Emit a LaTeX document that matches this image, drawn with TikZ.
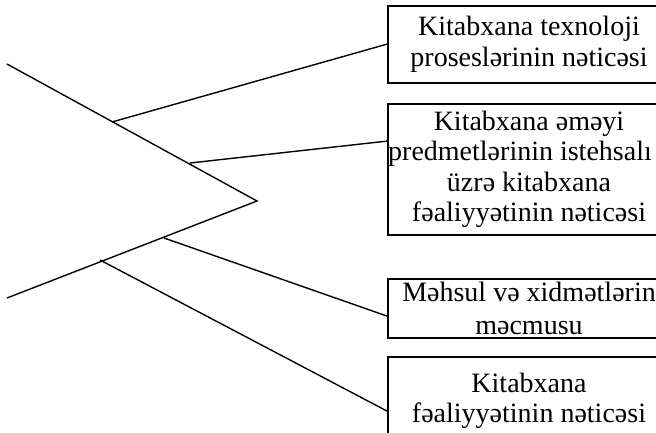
\documentclass[tikz,border=0pt]{standalone}
\usepackage{fontspec}
\setmainfont{Liberation Serif}
\usetikzlibrary{calc}
\begin{document}
\begin{tikzpicture}[x=1pt,y=-1pt,
  line/.style={line width=1.4pt,line join=miter},
  resultbox/.style={draw,line width=1.8pt,rectangle,inner sep=0pt,
    minimum width=282pt,align=center,
    font=\fontsize{28}{30.5}\selectfont}]
  \useasboundingbox (0,0) rectangle (656,433);
  \clip (0,0) rectangle (656,433);

  % outcome boxes (their right sides run past the page edge)
  \node[resultbox,minimum height=77pt]  (b1) at (529,44.5)
    {Kitabxana texnoloji\\proseslərinin nəticəsi};
  \node[resultbox,minimum height=131pt] (b2) at (529,169.5)
    {Kitabxana əməyi\\\hspace*{-18pt}predmetlərinin istehsalı\\üzrə kitabxana\\fəaliyyətinin nəticəsi};
  \node[resultbox,minimum height=59pt]  (b3) at (529,308.5)
    {Məhsul və xidmətlərin\\[3pt]məcmusu};
  \node[resultbox,minimum height=88pt]  (b4) at (529,401)
    {Kitabxana\\fəaliyyətinin nəticəsi};

  % the open angle
  \coordinate (top) at (7,64);
  \coordinate (apex) at (257,201);
  \coordinate (bottom) at (7,298);
  \draw[line] (top) -- (apex) -- (bottom);

  % branch start points on the two arms
  \coordinate (s1) at (112,122);
  \coordinate (s2) at (190,163);
  \coordinate (s3) at (164,238);
  \coordinate (s4) at (100,260);

  % branch end points on the left sides of the boxes
  \coordinate (e1) at ($(b1.north west)+(0,39)$);
  \coordinate (e2) at ($(b2.north west)+(0,38)$);
  \coordinate (e3) at ($(b3.north west)+(0,38)$);
  \coordinate (e4) at ($(b4.north west)+(0,55)$);

  \draw[line] (s1) -- (e1);
  \draw[line] (s2) -- (e2);
  \draw[line] (s3) -- (e3);
  \draw[line] (s4) -- (e4);
\end{tikzpicture}
\end{document}
